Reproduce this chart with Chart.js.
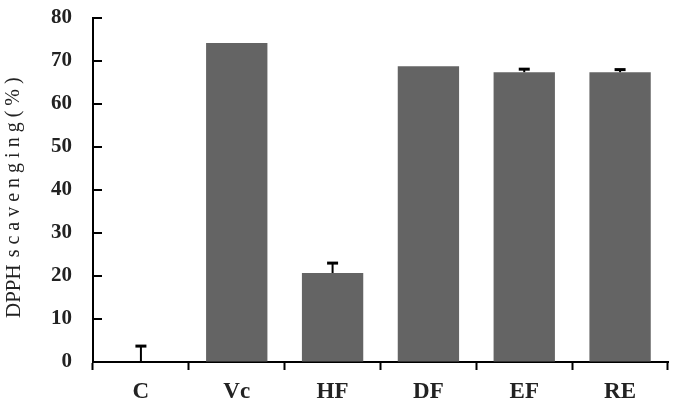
<!DOCTYPE html>
<html>
<head>
<meta charset="utf-8">
<script src="https://cdn.jsdelivr.net/npm/chart.js@4"></script>
<style>
html,body{margin:0;padding:0;background:#fff;}
#wrap{width:677px;height:400px;}
</style>
</head>
<body>
<div id="wrap"><canvas id="c" width="677" height="400"></canvas></div>
<script>
const categories = ["C", "Vc", "HF", "DF", "EF", "RE"];
const values = [0, 74.2, 20.7, 68.8, 67.4, 67.4];
const errors = [3.7, 0, 2.3, 0, 0.7, 0.6];
const yTicks = [0, 10, 20, 30, 40, 50, 60, 70, 80];
const yTitleParts = ["DPPH", "scavenging(%)"];

const FONT = "'Liberation Serif', 'DejaVu Serif', serif";

const errorBarPlugin = {
  id: 'errorBars',
  afterDatasetsDraw(chart) {
    const ctx = chart.ctx;
    const meta = chart.getDatasetMeta(0);
    const y = chart.scales.y;
    ctx.save();
    ctx.strokeStyle = '#000';
    meta.data.forEach((bar, i) => {
      const e = errors[i];
      if (!e) return;
      const x = bar.x;
      const y0 = y.getPixelForValue(values[i]);
      const y1 = y.getPixelForValue(values[i] + e);
      ctx.lineWidth = 2;
      ctx.beginPath();
      ctx.moveTo(x, y0);
      ctx.lineTo(x, y1);
      ctx.stroke();
      ctx.lineWidth = 3;
      ctx.beginPath();
      ctx.moveTo(x - 5.5, y1);
      ctx.lineTo(x + 5.5, y1);
      ctx.stroke();
    });
    ctx.restore();
  }
};

const innerTicksPlugin = {
  id: 'innerTicks',
  afterDraw(chart) {
    const ctx = chart.ctx;
    const y = chart.scales.y;
    const left = chart.chartArea.left;
    ctx.save();
    ctx.strokeStyle = '#000';
    ctx.lineWidth = 2;
    yTicks.forEach(v => {
      if (v === 0) return;
      const py = Math.round(y.getPixelForValue(v));
      ctx.beginPath();
      ctx.moveTo(left, py);
      ctx.lineTo(left + 9, py);
      ctx.stroke();
    });
    // y-axis title: "DPPH" compact, rest letter-spaced like the reference
    ctx.translate(14, 318);
    ctx.rotate(-Math.PI / 2);
    ctx.fillStyle = '#222';
    ctx.textAlign = 'left';
    ctx.textBaseline = 'middle';
    ctx.font = "21px " + FONT;
    try { ctx.letterSpacing = '0px'; } catch (e) {}
    ctx.fillText(yTitleParts[0], 0, 0);
    const w0 = ctx.measureText(yTitleParts[0]).width + 7;
    ctx.font = "20px " + FONT;
    try { ctx.letterSpacing = '5px'; } catch (e) {}
    ctx.fillText(yTitleParts[1], w0, 0);
    ctx.restore();
  }
};

new Chart(document.getElementById('c'), {
  type: 'bar',
  data: {
    labels: categories,
    datasets: [{
      data: values,
      backgroundColor: '#646464',
      borderWidth: 0,
      categoryPercentage: 1.0,
      barPercentage: 0.64
    }]
  },
  options: {
    responsive: false,
    animation: false,
    events: [],
    layout: { padding: { top: 18, right: 9, left: 0, bottom: 0 } },
    plugins: { legend: { display: false }, tooltip: { enabled: false } },
    scales: {
      x: {
        grid: {
          offset: true,
          drawOnChartArea: false,
          drawTicks: true,
          tickLength: 8,
          tickWidth: 2,
          tickColor: '#000'
        },
        border: { color: '#000', width: 2 },
        ticks: {
          color: '#222',
          font: { family: FONT, size: 23, weight: 'bold' },
          padding: 8
        },
        afterFit(scale) { scale.height = 38; scale.paddingLeft = 0; scale.paddingRight = 0; }
      },
      y: {
        min: 0,
        max: 80,
        afterBuildTicks(scale) { scale.ticks = yTicks.map(v => ({ value: v })); },
        grid: { drawOnChartArea: false, drawTicks: false },
        border: { color: '#000', width: 2 },
        ticks: {
          color: '#222',
          font: { family: FONT, size: 21, weight: 'bold' },
          padding: 21
        },
        afterFit(scale) { scale.width = 93; scale.paddingTop = 0; scale.paddingBottom = 0; }
      }
    }
  },
  plugins: [errorBarPlugin, innerTicksPlugin]
});
</script>
</body>
</html>
